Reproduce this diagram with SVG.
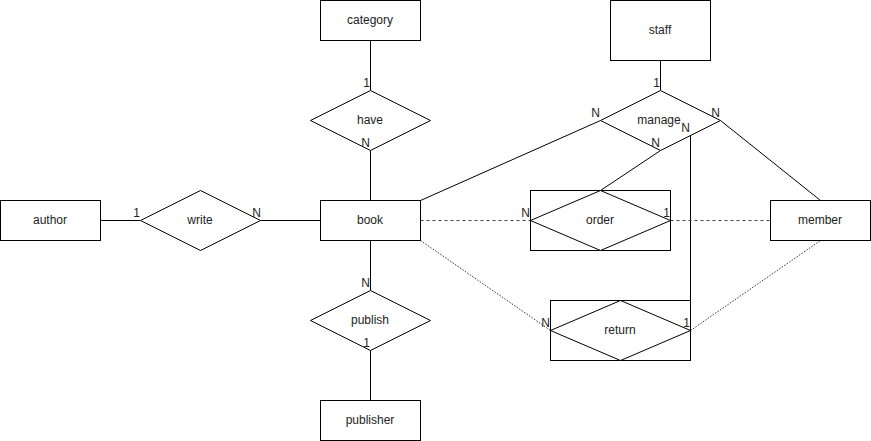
<svg xmlns="http://www.w3.org/2000/svg" width="871" height="441" viewBox="0 0 871 441">
<style>
.box{fill:#fff;stroke:#000;stroke-width:1}
.dia{fill:#fff;stroke:#000;stroke-width:1}
.t{font-family:"Liberation Sans",Arial,sans-serif;font-size:12px;fill:#222;text-anchor:middle}
.lbl{font-family:"Liberation Sans",Arial,sans-serif;font-size:12px;fill:#222;text-anchor:end}
.e{stroke:#000;stroke-width:1;fill:none}
.dash{stroke-dasharray:3 3;stroke:#444}
.dot{stroke-dasharray:1.5 1.5;stroke:#333}
</style>
<rect width="871" height="441" fill="#fff"/>
<g id="connectors">
<line class="e" x1="100.5" y1="220.5" x2="140.5" y2="220.5"/>
<line class="e" x1="260.5" y1="220.5" x2="320.5" y2="220.5"/>
<line class="e" x1="370.5" y1="40.5" x2="370.5" y2="90.5"/>
<line class="e" x1="370.5" y1="150.5" x2="370.5" y2="200.5"/>
<line class="e" x1="370.5" y1="240.5" x2="370.5" y2="290.5"/>
<line class="e" x1="370.5" y1="350.5" x2="370.5" y2="400.5"/>
<line class="e" x1="660.5" y1="60.5" x2="660.5" y2="90.5"/>
<line class="e" x1="600.5" y1="120.5" x2="420.5" y2="200.5"/>
<line class="e" x1="720.5" y1="120.5" x2="820.5" y2="200.5"/>
<line class="e" x1="660.5" y1="150.5" x2="600.5" y2="190.5"/>
<line class="e" x1="690.5" y1="135.5" x2="690.5" y2="300.5"/>
<line class="e dash" x1="420.5" y1="220.5" x2="530.5" y2="220.5"/>
<line class="e dash" x1="670.5" y1="220.5" x2="770.5" y2="220.5"/>
<line class="e dot" x1="420.5" y1="240.5" x2="550.5" y2="330.5"/>
<line class="e dot" x1="690.5" y1="330.5" x2="820.5" y2="240.5"/>
</g>
<g id="author"><rect class="box" x="0.5" y="200.5" width="100" height="40"/><text class="t" x="50" y="224">author</text></g>
<g id="book"><rect class="box" x="320.5" y="200.5" width="100" height="40"/><text class="t" x="370" y="224">book</text></g>
<g id="member"><rect class="box" x="770.5" y="200.5" width="100" height="40"/><text class="t" x="820" y="224">member</text></g>
<g id="category"><rect class="box" x="320.5" y="0.5" width="100" height="40"/><text class="t" x="370" y="24">category</text></g>
<g id="publisher"><rect class="box" x="320.5" y="400.5" width="100" height="40"/><text class="t" x="370" y="424">publisher</text></g>
<g id="staff"><rect class="box" x="610.5" y="0.5" width="100" height="60"/><text class="t" x="660" y="34">staff</text></g>
<g id="write"><polygon class="dia" points="140.5,220.5 200.5,190.5 260.5,220.5 200.5,250.5"/><text class="t" x="200" y="224">write</text></g>
<g id="have"><polygon class="dia" points="310.5,120.5 370.5,90.5 430.5,120.5 370.5,150.5"/><text class="t" x="370" y="124">have</text></g>
<g id="publish"><polygon class="dia" points="310.5,320.5 370.5,290.5 430.5,320.5 370.5,350.5"/><text class="t" x="370" y="324">publish</text></g>
<g id="manage"><polygon class="dia" points="600.5,120.5 660.5,90.5 720.5,120.5 660.5,150.5"/><text class="t" x="659" y="124">manage</text></g>
<g id="order"><rect class="box" x="530.5" y="190.5" width="140" height="60"/><polygon class="dia" points="530.5,220.5 600.5,190.5 670.5,220.5 600.5,250.5"/><text class="t" x="600" y="224">order</text></g>
<g id="return"><rect class="box" x="550.5" y="300.5" width="140" height="60"/><polygon class="dia" points="550.5,330.5 620.5,300.5 690.5,330.5 620.5,360.5"/><text class="t" x="620" y="334">return</text></g>
<g id="connector-labels">
<text class="lbl" x="140" y="217">1</text>
<text class="lbl" x="261" y="217">N</text>
<text class="lbl" x="370" y="87">1</text>
<text class="lbl" x="370" y="147">N</text>
<text class="lbl" x="370" y="287">N</text>
<text class="lbl" x="370" y="347">1</text>
<text class="lbl" x="660" y="87">1</text>
<text class="lbl" x="600" y="117">N</text>
<text class="lbl" x="720" y="117">N</text>
<text class="lbl" x="660" y="147">N</text>
<text class="lbl" x="690" y="132">N</text>
<text class="lbl" x="530" y="217">N</text>
<text class="lbl" x="670" y="217">1</text>
<text class="lbl" x="550" y="327">N</text>
<text class="lbl" x="690" y="327">1</text>
</g>
</svg>
